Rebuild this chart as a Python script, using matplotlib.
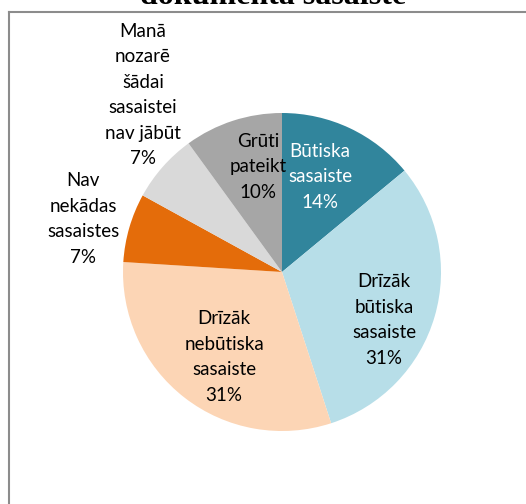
import matplotlib.pyplot as plt
from matplotlib.lines import Line2D

# atbilžu kategorijas un daļas (%)
categories = ["Būtiska\nsasaiste", "Drīzāk\nbūtiska\nsasaiste", "Drīzāk\nnebūtiska\nsasaiste",
              "Nav\nnekādas\nsasaistes", "Manā\nnozarē\nšādai\nsasaistei\nnav jābūt", "Grūti\npateikt"]
shares = [14, 31, 31, 7, 7, 10]
colors = ["#31859C", "#B7DEE8", "#FCD5B5", "#E46C0A", "#D9D9D9", "#A6A6A6"]
text_colors = ["white", "black", "black", "black", "black", "black"]

# etiķešu centri pikseļos (x, y no augšas)
label_pos = [(320, 177), (384, 320), (224, 357), (83, 219), (143, 95), (258, 167)]

W, H = 526, 504
fig = plt.figure(figsize=(W / 100, H / 100), dpi=100)

# rāmis ap diagrammu
fig.add_artist(Line2D([9 / W, 9 / W], [0, 1 - 12 / H], color="#8c8c8c", lw=1.5))
fig.add_artist(Line2D([9 / W, 1], [1 - 12 / H, 1 - 12 / H], color="#8c8c8c", lw=1.5))

cx, cy, r = 282, 272, 159
ax = fig.add_axes([(cx - r) / W, (H - cy - r) / H, 2 * r / W, 2 * r / H])
ax.pie(shares, colors=colors, startangle=90, counterclock=False, radius=1,
       wedgeprops=dict(linewidth=0))
ax.set_xlim(-1, 1)
ax.set_ylim(-1, 1)
ax.axis("off")

for cat, val, (x, y), tc in zip(categories, shares, label_pos, text_colors):
    fig.text(x / W, 1 - y / H, f"{cat}\n{val}%", ha="center", va="center",
             color=tc, fontsize=13.5, family="Lato", linespacing=1.6)

# virsraksta apakšējā rinda (augšdaļa nogriezta)
fig.text(273 / W, 1 - 4.5 / H, "dokumenta sasaiste", ha="center", va="baseline",
         fontsize=23, fontweight="bold", family="Liberation Serif")

fig.savefig("out.png", dpi=100)
